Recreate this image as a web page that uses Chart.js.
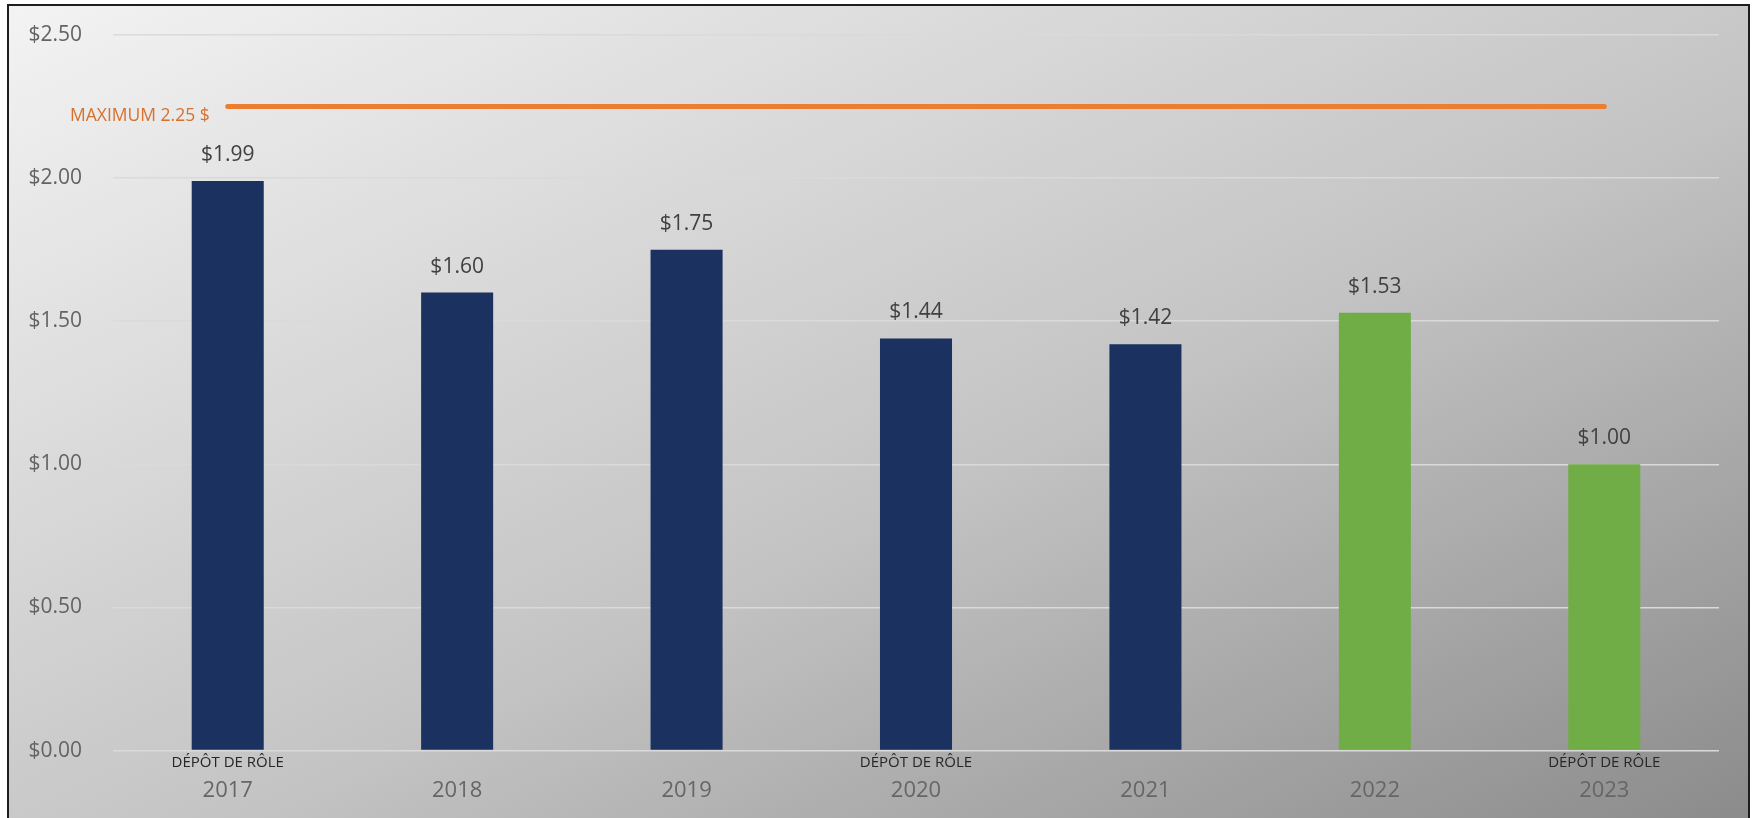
<!DOCTYPE html>
<html>
<head>
<meta charset="utf-8">
<script src="https://cdn.jsdelivr.net/npm/chart.js@4/dist/chart.umd.min.js"></script>
<style>
    html, body { margin: 0; padding: 0; background: #fff; overflow: hidden; }
    #wrap {
        position: relative;
        width: 1754px;
        height: 818px;
    }
    #bg {
        position: absolute;
        left: 8px; top: 5px; width: 1740px; height: 830px;
        background: linear-gradient(to bottom right, #f3f3f3 0%, #c4c4c4 55%, #8a8a8a 100%);
    }
    #frame {
        position: absolute;
        left: 7px; top: 4px; width: 1739px; height: 830px;
        border: 2px solid #1e1e1e;
        pointer-events: none;
    }
    canvas { position: absolute; left: 0; top: 0; }
</style>
</head>
<body>
<div id="wrap">
    <div id="bg"></div>
    <canvas id="taxChart" width="1754" height="818"></canvas>
    <div id="frame"></div>
</div>
<script>
// --- chart data ---
const years = ['2017', '2018', '2019', '2020', '2021', '2022', '2023'];
const rates = [1.99, 1.60, 1.75, 1.44, 1.42, 1.53, 1.00];
const roleLabels = ['DÉPÔT DE RÔLE', '', '', 'DÉPÔT DE RÔLE', '', '', 'DÉPÔT DE RÔLE'];
const maxRate = [2.25, 2.25, 2.25, 2.25, 2.25, 2.25, 2.25];
const maxLabel = 'MAXIMUM 2.25 $';
const yTicks = [0, 0.5, 1, 1.5, 2, 2.5];

const NAVY = '#1b3160';
const GREEN = '#70ad47';
const ORANGE = '#ed7d31';
const FONT = "'Open Sans', 'Noto Sans', sans-serif";

const money = v => '$' + Number(v).toFixed(2);

// value labels above each bar + label at the start of the max line
const annotate = {
    id: 'annotate',
    afterDatasetsDraw(chart) {
        const ctx = chart.ctx;
        ctx.save();
        const bars = chart.getDatasetMeta(0).data;
        ctx.font = '21px ' + FONT;
        ctx.fillStyle = '#404040';
        ctx.textAlign = 'center';
        ctx.textBaseline = 'middle';
        bars.forEach((bar, i) => {
            ctx.fillText(money(rates[i]), bar.x, bar.y - 26);
        });

        const pts = chart.getDatasetMeta(1).data;
        if (pts.length) {
            ctx.font = '17.5px ' + FONT;
            ctx.fillStyle = '#d8702c';
            ctx.textAlign = 'right';
            ctx.fillText(maxLabel, pts[0].x - 18, pts[0].y + 9);
        }
        ctx.restore();
    }
};

new Chart(document.getElementById('taxChart'), {
    type: 'bar',
    data: {
        labels: years,
        datasets: [{
            label: 'Taux',
            data: rates,
            backgroundColor: years.map((y, i) => i >= 5 ? GREEN : NAVY),
            barPercentage: 0.314,
            categoryPercentage: 1,
            order: 2
        }, {
            type: 'line',
            label: 'Maximum',
            data: maxRate,
            borderColor: ORANGE,
            borderWidth: 5,
            borderCapStyle: 'round',
            pointRadius: 0,
            fill: false,
            order: 1
        }]
    },
    plugins: [annotate],
    options: {
        responsive: false,
        animation: false,
        layout: { padding: { top: 35, right: 35, bottom: 11, left: 0 } },
        plugins: {
            legend: { display: false },
            tooltip: { enabled: false }
        },
        scales: {
            x: {
                weight: 1,
                grid: { display: false, drawTicks: false },
                border: { display: false },
                ticks: {
                    padding: 3,
                    maxRotation: 0,
                    autoSkip: false,
                    color: '#666666',
                    font: { family: FONT, size: 22 }
                }
            },
            role: {
                type: 'category',
                position: 'bottom',
                labels: roleLabels,
                offset: true,
                weight: 0,
                grid: { display: false, drawTicks: false },
                border: { display: false },
                ticks: {
                    padding: 3,
                    maxRotation: 0,
                    autoSkip: false,
                    color: '#262626',
                    font: { family: FONT, size: 15 }
                }
            },
            y: {
                min: 0,
                max: 2.5,
                afterFit: scale => {
                    scale.width = 113;
                    scale.paddingTop = 0;
                    scale.paddingBottom = 0;
                },
                afterBuildTicks: scale => { scale.ticks = yTicks.map(v => ({ value: v })); },
                grid: { color: '#dadada', lineWidth: 1.5, drawTicks: false },
                border: { display: false },
                ticks: {
                    padding: 31,
                    color: '#636363',
                    font: { family: FONT, size: 21 },
                    callback: v => money(v)
                }
            }
        }
    }
});
</script>
</body>
</html>
